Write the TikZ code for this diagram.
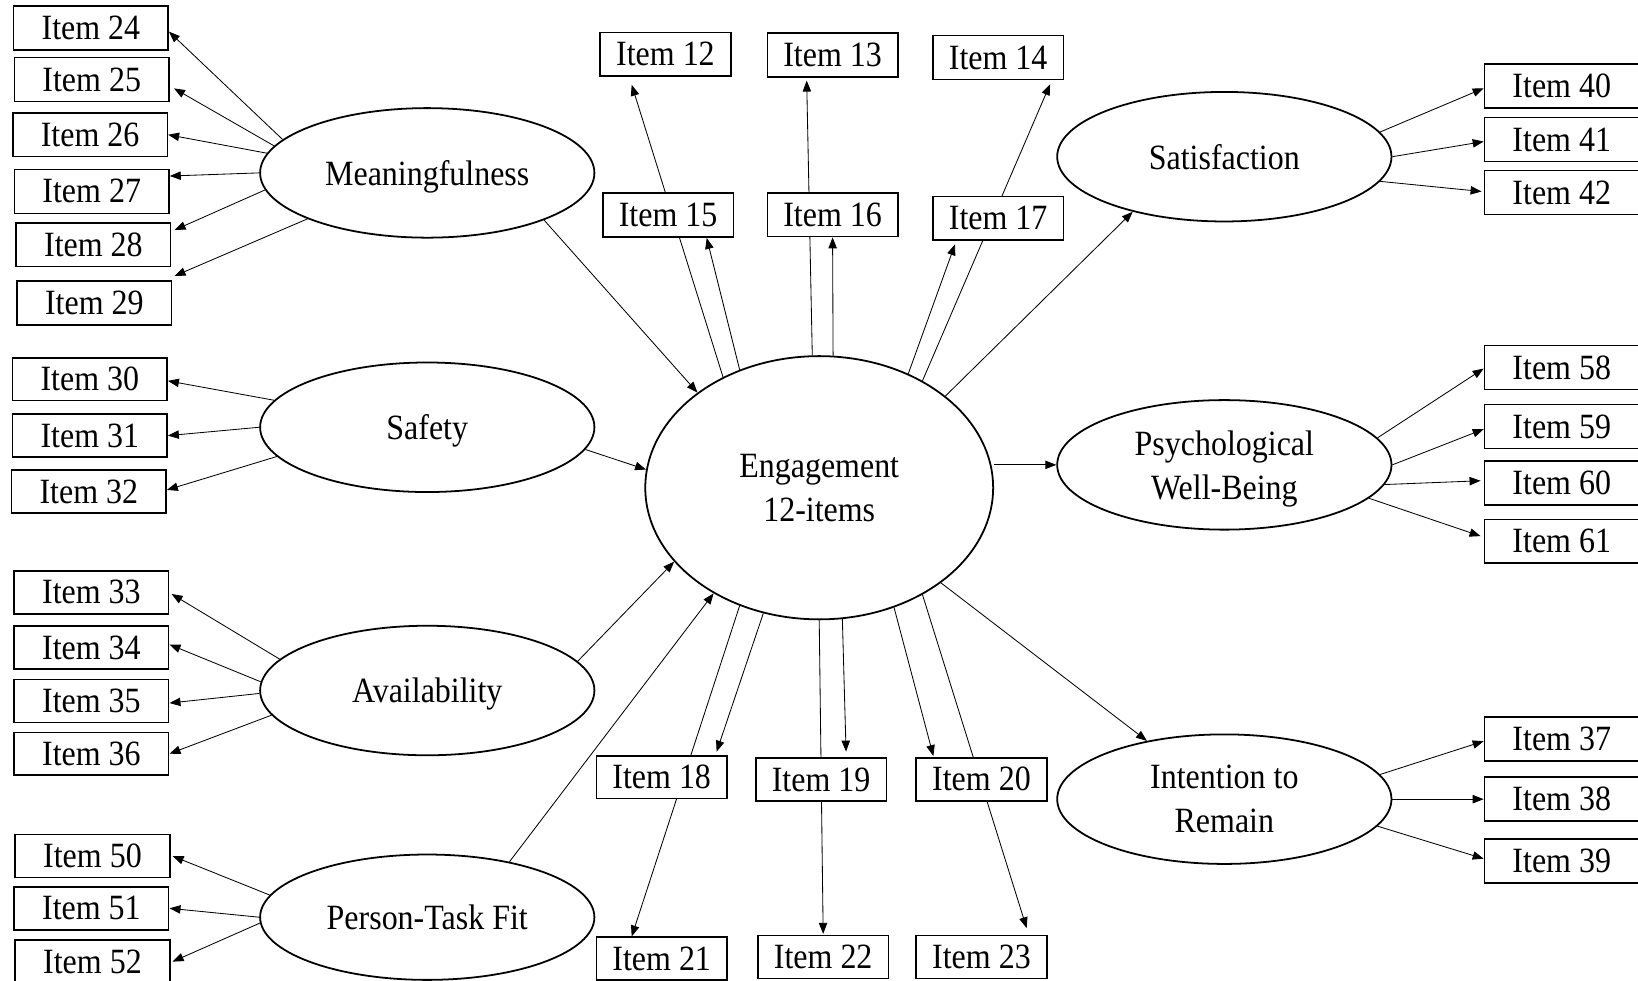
\documentclass[tikz,border=0pt]{standalone}
\usepackage{fontspec}
\setmainfont{Liberation Serif}[FakeStretch=0.9]
\usetikzlibrary{shapes.geometric,arrows.meta}
\pgfdeclarelayer{bg}
\pgfsetlayers{bg,main}
\tikzset{
  itembox/.style={draw, line width=1.5pt, fill=white, minimum width=148pt, minimum height=41pt, inner sep=0pt},
  itemmid/.style={itembox, minimum width=125pt},
  latent/.style={ellipse, draw, line width=1.7pt, fill=white, minimum width=320pt, minimum height=124pt, inner sep=0pt, align=center, text depth=0pt},
  arr/.style={line width=0.8pt, -{Triangle[length=10.5pt,width=8pt]}}
}
\begin{document}
\begin{tikzpicture}[x=1pt,y=-1pt,font=\fontsize{34}{42}\selectfont]
\useasboundingbox (0,0) rectangle (1568,939);
% latent variables
\node[latent] (m) at (409,165.5) {Meaningfulness};
\node[latent] (s) at (409,409) {Safety};
\node[latent] (a) at (409,661) {Availability};
\node[latent, minimum height=120pt] (p) at (409,878) {Person-Task Fit};
\node[latent, minimum width=333pt, minimum height=252pt] (eng) at (784.2,466.9) {Engagement\\12-items};
\node[latent] (sat) at (1172,150) {Satisfaction};
\node[latent] (pwb) at (1172,445) {Psychological\\Well-Being};
\node[latent] (ir) at (1172,765) {Intention to\\Remain};
% left items
\node[itembox, minimum height=42pt] (i24) at (87,26.8) {Item 24};
\node[itembox, minimum height=42pt] (i25) at (87.8,76.1) {Item 25};
\node[itembox, minimum height=42pt] (i26) at (86.2,129) {Item 26};
\node[itembox, minimum height=42pt] (i27) at (87.8,183.2) {Item 27};
\node[itembox, minimum height=42pt] (i28) at (89.4,234.2) {Item 28};
\node[itembox, minimum height=42pt] (i29) at (90.3,290) {Item 29};
\node[itembox] (i30) at (86,363) {Item 30};
\node[itembox] (i31) at (86,417) {Item 31};
\node[itembox] (i32) at (85,470.5) {Item 32};
\node[itembox] (i33) at (87.5,567) {Item 33};
\node[itembox] (i34) at (87.5,620) {Item 34};
\node[itembox] (i35) at (87.5,671) {Item 35};
\node[itembox] (i36) at (87.5,721.5) {Item 36};
\node[itembox] (i50) at (88.5,819.5) {Item 50};
\node[itembox] (i51) at (87.5,869.5) {Item 51};
\node[itembox] (i52) at (88.5,920.5) {Item 52};
% top items
\node[itemmid, minimum height=42pt] (i12) at (637,52) {Item 12};
\node[itemmid, minimum height=42pt] (i13) at (797,52.5) {Item 13};
\node[itemmid, minimum height=42pt] (i14) at (955.5,55) {Item 14};
\node[itemmid, minimum height=42pt] (i15) at (639.5,206) {Item 15};
\node[itemmid, minimum height=42pt] (i16) at (797,205.5) {Item 16};
\node[itemmid, minimum height=42pt] (i17) at (955.5,209) {Item 17};
% bottom items
\node[itemmid] (i18) at (633.4,744) {Item 18};
\node[itemmid] (i19) at (786,746.2) {Item 19};
\node[itemmid] (i20) at (939.5,746) {Item 20};
\node[itemmid] (i21) at (633.4,917.7) {Item 21};
\node[itemmid] (i22) at (788,916.2) {Item 22};
\node[itemmid] (i23) at (939.5,916.2) {Item 23};
% right items
\node[itembox, minimum height=42pt] (i40) at (1495,82.5) {Item 40};
\node[itembox, minimum height=42pt] (i41) at (1495,133.5) {Item 41};
\node[itembox, minimum height=42pt] (i42) at (1495,184.3) {Item 42};
\node[itembox, minimum height=42pt] (i58) at (1495,351.8) {Item 58};
\node[itembox, minimum height=42pt] (i59) at (1495,408.3) {Item 59};
\node[itembox, minimum height=42pt] (i60) at (1495,462.2) {Item 60};
\node[itembox, minimum height=42pt] (i61) at (1495,518.2) {Item 61};
\node[itembox, minimum height=42pt] (i37) at (1495,707.5) {Item 37};
\node[itembox, minimum height=42pt] (i38) at (1495,765) {Item 38};
\node[itembox, minimum height=42pt] (i39) at (1495,824) {Item 39};
% Meaningfulness
\draw[arr] (m.167) -- ([yshift=-3.5pt]i24.east);
\draw[arr] (m.170.3) -- ([xshift=4pt,yshift=-8.5pt]i25.east);
\draw[arr] (m.173.7) -- (i26.east);
\draw[arr] (m.180) -- ([yshift=14.7pt]i27.east);
\draw[arr] (m.186.8) -- ([xshift=3pt,yshift=14pt]i28.east);
\draw[arr] (m.201.6) -- ([xshift=2pt,yshift=25.8pt]i29.east);
\draw[arr] (m.338.1) -- (eng.142.7);
% Safety
\draw[arr] (s.170.1) -- ([yshift=-1.6pt]i30.east);
\draw[arr] (s.180) -- (i31.east);
\draw[arr] (s.191.9) -- ([yshift=1.5pt]i32.east);
\draw[arr] (s.352.6) -- (eng.174.4);
% Availability
\draw[arr] (a.168.1) -- ([xshift=2pt,yshift=-1.6pt]i33.east);
\draw[arr] (a.177.9) -- ([yshift=3pt]i34.east);
\draw[arr] (a.181.8) -- ([yshift=-2pt]i35.east);
\draw[arr] (a.189.5) -- (i36.east);
\draw[arr] (a.11.1) -- (eng.207.9);
% Person-Task Fit
\draw[arr] (p.172.6) -- ([xshift=2pt]i50.east);
\draw[arr] (p.180) -- (i51.east);
\draw[arr] (p.182.5) -- ([xshift=2pt]i52.east);
\draw[arr] (p.34.3) -- (eng.225.1);
% Engagement to outcomes
\draw[arr] (eng.36.8) -- (sat.211.4);
\draw[arr] (eng.east |- pwb.west) -- (pwb.west);
\draw[arr] (eng.322.6) -- (ir.143.3);
% Satisfaction items
\draw[arr] (sat.9.2) -- ([yshift=-2pt]i40.west);
\draw[arr] (sat.0) -- ([yshift=-2pt]i41.west);
\draw[arr] (sat.351.5) -- ([xshift=-2pt,yshift=1pt]i42.west);
% PWB items
\draw[arr] (pwb.10.5) -- ([yshift=-1pt]i58.west);
\draw[arr] (pwb.0) -- ([yshift=-2.5pt]i59.west);
\draw[arr] (pwb.353.5) -- ([xshift=-3pt,yshift=2pt]i60.west);
\draw[arr] (pwb.347.7) -- ([xshift=-3pt,yshift=5pt]i61.west);
% Intention items
\draw[arr] (ir.9.2) -- ([yshift=-2pt]i37.west);
\draw[arr] (ir.0) -- (i38.west);
\draw[arr] (ir.350) -- ([yshift=2pt]i39.west);
% Engagement items (near)
\draw[arr] (eng.124.7) -- ([xshift=37pt]i15.south);
\draw[arr] (eng.84.4) -- (i16.south);
\draw[arr] (eng.52.6) -- ([xshift=-41.3pt,yshift=-3.1pt]i17.south);
\draw[arr] (eng.246.3) -- ([xshift=52.6pt,yshift=3.2pt]i18.north);
\draw[arr] (eng.280.2) -- ([xshift=23.9pt,yshift=5.5pt]i19.north);
\draw[arr] (eng.302.3) -- ([xshift=-46pt,yshift=1pt]i20.north);
% Engagement items (far, behind the near boxes)
\begin{pgfonlayer}{bg}
\fill[white] (0,0) rectangle (1568,939);
\draw[arr] (eng.131.6) -- ([xshift=-32.3pt,yshift=-7.4pt]i12.south);
\draw[arr] (eng.93.9) -- ([xshift=-24.8pt,yshift=-2.9pt]i13.south);
\draw[arr] (eng.46) -- ([xshift=49.7pt,yshift=-3.8pt]i14.south);
\draw[arr] (eng.236.4) -- ([xshift=-28.7pt]i21.north);
\draw[arr] (eng.270.2) -- ([yshift=1pt]i22.north);
\draw[arr] (eng.314.4) -- ([xshift=43.3pt,yshift=6.4pt]i23.north);
\end{pgfonlayer}
\end{tikzpicture}
\end{document}
